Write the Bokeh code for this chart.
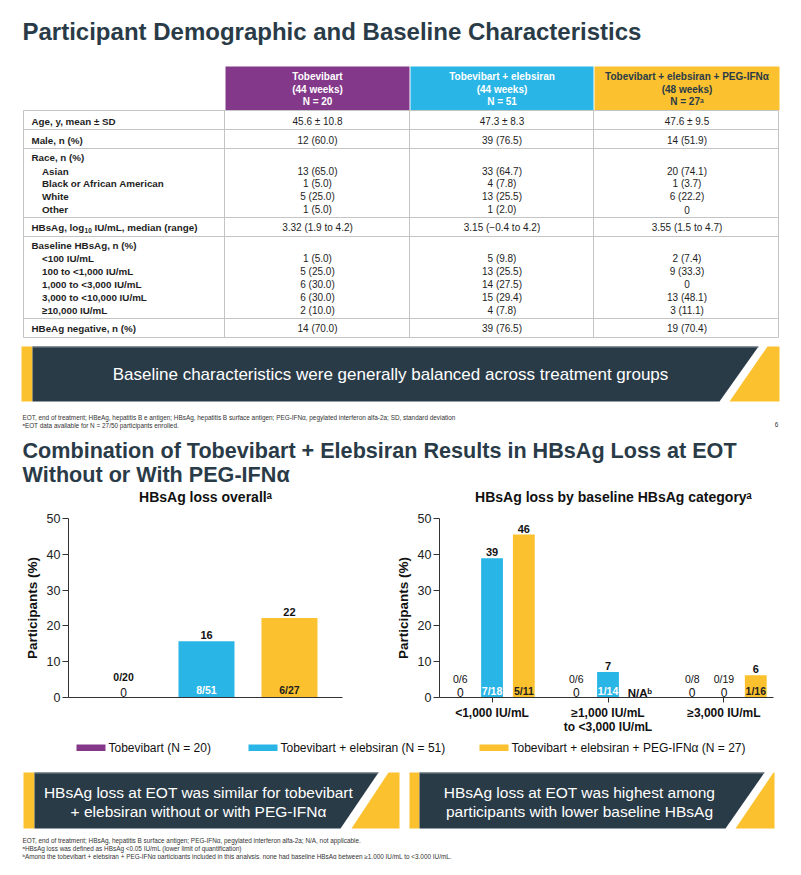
from bokeh.plotting import figure
from bokeh.models import Range1d, FixedTicker
from bokeh.layouts import column, row
from bokeh.embed import file_html
from bokeh.resources import INLINE
from bokeh.core.properties import value

# ---------------- data ----------------
group_names = ["Tobevibart", "Tobevibart + elebsiran", "Tobevibart + elebsiran + PEG-IFNα"]
group_weeks = ["(44 weeks)", "(44 weeks)", "(48 weeks)"]
group_n = ["N = 20", "N = 51", "N = 27ᵃ"]
legend_labels = ["Tobevibart (N = 20)", "Tobevibart + elebsiran (N = 51)",
                 "Tobevibart + elebsiran + PEG-IFNα (N = 27)"]

row_labels = ["Age, y, mean ± SD", "Male, n (%)", "Race, n (%)", "Asian",
              "Black or African American", "White", "Other",
              "HBsAg, log|10|IU/mL, median (range)", "Baseline HBsAg, n (%)",
              "<100 IU/mL", "100 to <1,000 IU/mL", "1,000 to <3,000 IU/mL",
              "3,000 to <10,000 IU/mL", "≥10,000 IU/mL", "HBeAg negative, n (%)"]
row_indent = [0, 0, 0, 1, 1, 1, 1, 0, 0, 1, 1, 1, 1, 1, 0]
col_tobevibart = ["45.6 ± 10.8", "12 (60.0)", "", "13 (65.0)", "1 (5.0)", "5 (25.0)",
                  "1 (5.0)", "3.32 (1.9 to 4.2)", "", "1 (5.0)", "5 (25.0)", "6 (30.0)",
                  "6 (30.0)", "2 (10.0)", "14 (70.0)"]
col_tob_ele = ["47.3 ± 8.3", "39 (76.5)", "", "33 (64.7)", "4 (7.8)", "13 (25.5)",
               "1 (2.0)", "3.15 (−0.4 to 4.2)", "", "5 (9.8)", "13 (25.5)", "14 (27.5)",
               "15 (29.4)", "4 (7.8)", "39 (76.5)"]
col_tob_ele_peg = ["47.6 ± 9.5", "14 (51.9)", "", "20 (74.1)", "1 (3.7)", "6 (22.2)",
                   "0", "3.55 (1.5 to 4.7)", "", "2 (7.4)", "9 (33.3)", "0",
                   "13 (48.1)", "3 (11.1)", "19 (70.4)"]

overall_pct = [0, 15.7, 22.2]
overall_label = ["0", "16", "22"]
overall_frac = ["0/20", "8/51", "6/27"]

categories = ["<1,000 IU/mL", "≥1,000 IU/mL\nto <3,000 IU/mL", "≥3,000 IU/mL"]
cat_pct_tob = [0, 0, 0]
cat_frac_tob = ["0/6", "0/6", "0/8"]
cat_pct_ele = [38.9, 7.1, 0]
cat_label_ele = ["39", "7", "0"]
cat_frac_ele = ["7/18", "1/14", "0/19"]
cat_pct_peg = [45.5, None, 6.25]
cat_label_peg = ["46", "", "6"]
cat_frac_peg = ["5/11", "N/Aᵇ", "1/16"]

title_top = "Participant Demographic and Baseline Characteristics"
banner_top = "Baseline characteristics were generally balanced across treatment groups"
foot_top = ["EOT, end of treatment; HBeAg, hepatitis B e antigen; HBsAg, hepatitis B surface antigen; PEG-IFNα, pegylated interferon alfa-2a; SD, standard deviation",
            "ᵃEOT data available for N = 27/50 participants enrolled."]
title_bottom = ["Combination of Tobevibart + Elebsiran Results in HBsAg Loss at EOT",
                "Without or With PEG-IFNα"]
chart_titles = ["HBsAg loss overallᵃ", "HBsAg loss by baseline HBsAg categoryᵃ"]
banner_bottom_left = ["HBsAg loss at EOT was similar for tobevibart", "+ elebsiran without or with PEG-IFNα"]
banner_bottom_right = ["HBsAg loss at EOT was highest among", "participants with lower baseline HBsAg"]
foot_bottom = ["EOT, end of treatment; HBsAg, hepatitis B surface antigen; PEG-IFNα, pegylated interferon alfa-2a; N/A, not applicable.",
               "ᵃHBsAg loss was defined as HBsAg <0.05 IU/mL (lower limit of quantification)",
               "ᵇAmong the tobevibart + elebsiran + PEG-IFNα participants included in this analysis, none had baseline HBsAg between ≥1,000 IU/mL to <3,000 IU/mL."]

# ---------------- styles ----------------
FONT = "Liberation Sans"
DARK = "#2a3b48"
PURPLE = "#84388a"
BLUE = "#29b5e6"
YELLOW = "#fbc12f"
TEXT = "#1e1e1e"
GRID = "#c4c4c4"
colors = [PURPLE, BLUE, YELLOW]
W = 785
LABEL_PX = 9.8


def canvas(y0, y1):
    p = figure(width=W, height=y1 - y0, x_range=Range1d(0, W), y_range=Range1d(y1, y0),
               output_backend="svg", toolbar_location=None, min_border=0,
               x_axis_type=None, y_axis_type=None, outline_line_color=None)
    p.background_fill_color = "white"
    p.border_fill_color = "white"
    return p


def txt(p, x, y, s, size, bold=False, color=TEXT, align="left"):
    p.text(x=[x], y=[y], text=[s], text_font=value(FONT), text_font_size=f"{size}px",
           text_font_style="bold" if bold else "normal", text_color=color,
           text_align=align, text_baseline="middle")


# approximate Arial-bold advance widths (per 1000 em) for placing subscripts
BOLD_W = {"H": 722, "B": 722, "s": 556, "A": 722, "g": 611, ",": 278, " ": 278,
          "l": 278, "o": 611}


def label_with_sub(p, x, y, s, size):
    pre, sub, post = s.split("|")
    txt(p, x, y, pre, size, True)
    w_pre = sum(BOLD_W.get(c, 600) for c in pre) * size / 1000
    sub_size = size * 0.66
    txt(p, x + w_pre + 0.3, y + 3, sub, sub_size, True)
    w_sub = len(sub) * 556 * sub_size / 1000
    txt(p, x + w_pre + w_sub + 0.3 + 278 * size / 1000, y, post, size, True)


def banner(p, strip, dark, yel, y0, y1):
    p.quad(left=[strip[0]], right=[strip[1]], top=[y0], bottom=[y1], fill_color=YELLOW, line_color=None)
    p.patch(x=[strip[1], dark[0], dark[1], strip[1]], y=[y0, y0, y1, y1], fill_color=DARK, line_color=None)
    p.patch(x=yel[0], y=yel[1], fill_color=YELLOW, line_color=None)
    p.segment(x0=[strip[1]], y0=[y0 + 0.5], x1=[dark[0]], y1=[y0 + 0.5], line_color="#7f8a93", line_width=1)


# ---------------- top canvas ----------------
top = canvas(0, 505)
txt(top, 22, 31, title_top, 24, bold=True, color=DARK)

col_left = [225, 410, 594]
col_right = [409, 593, 779]
col_center = [(a + b) / 2 for a, b in zip(col_left, col_right)]
top.quad(left=col_left, right=col_right, top=[66] * 3, bottom=[110] * 3, fill_color=colors, line_color=None)
head_colors = ["white", "white", DARK]
for i in range(3):
    txt(top, col_center[i], 76, group_names[i], 10, True, head_colors[i], "center")
    txt(top, col_center[i], 88.5, group_weeks[i], 10, True, head_colors[i], "center")
    txt(top, col_center[i], 100.5, group_n[i], 10, True, head_colors[i], "center")

hlines = [110, 129, 148, 217, 236, 318, 337]
vlines = [23, 224, 409, 593, 778]
top.segment(x0=[23] * len(hlines), x1=[778] * len(hlines), y0=hlines, y1=hlines, line_color=GRID, line_width=1)
top.segment(x0=vlines, x1=vlines, y0=[110] * len(vlines), y1=[337] * len(vlines), line_color=GRID, line_width=1)

row_y = [120.5, 139.5, 157, 170.5, 183, 196, 209, 227, 245, 258, 271, 283.5, 296.5, 309.5, 328]
for i, lab in enumerate(row_labels):
    lx = 31 if row_indent[i] == 0 else 41.5
    if "|" in lab:
        label_with_sub(top, lx, row_y[i], lab, LABEL_PX)
    else:
        txt(top, lx, row_y[i], lab, LABEL_PX, True, TEXT)
    for j, col in enumerate([col_tobevibart, col_tob_ele, col_tob_ele_peg]):
        if col[i]:
            txt(top, col_center[j], row_y[i], col[i], 10, False, TEXT, "center")

banner(top, (21, 32), (758, 719), ([767, 779, 779, 729], [346, 346, 401, 401]), 346, 401)
txt(top, 390, 374, banner_top, 17, False, "white", "center")

txt(top, 22, 417, foot_top[0], 6.4, False, "#333333")
txt(top, 22, 425, foot_top[1], 6.4, False, "#333333")
txt(top, 776, 424, "6", 6.4, False, "#333333", "center")

txt(top, 22, 450, title_bottom[0], 21.6, True, DARK)
txt(top, 22, 474, title_bottom[1], 21.6, True, DARK)
txt(top, 205, 496, chart_titles[0], 14, True, "#111111", "center")
txt(top, 613, 496, chart_titles[1], 14, True, "#111111", "center")


# ---------------- charts ----------------
def chart(width, xr, left, right):
    p = figure(width=width, height=235, x_range=Range1d(*xr), y_range=Range1d(0, 50),
               output_backend="svg", toolbar_location=None, outline_line_color=None,
               min_border_left=left, min_border_right=right, min_border_top=13, min_border_bottom=43)
    p.grid.visible = False
    p.background_fill_color = "white"
    p.border_fill_color = "white"
    ya = p.yaxis[0]
    ya.ticker = FixedTicker(ticks=[0, 10, 20, 30, 40, 50])
    ya.minor_tick_line_color = None
    ya.major_tick_in = 0
    ya.major_tick_out = 6
    ya.major_label_standoff = 2
    ya.major_label_text_font = FONT
    ya.major_label_text_font_size = "12.5px"
    ya.major_label_text_color = "#222222"
    ya.axis_line_color = "#333333"
    ya.major_tick_line_color = "#333333"
    ya.axis_label = "Participants (%)"
    ya.axis_label_text_font = FONT
    ya.axis_label_text_font_style = "bold"
    ya.axis_label_text_font_size = "13.5px"
    ya.axis_label_text_color = "#111111"
    ya.axis_label_standoff = 4
    xa = p.xaxis[0]
    xa.axis_line_color = "#333333"
    xa.minor_tick_line_color = None
    return p


def lab(p, xs, ys, texts, size, bold, color, yoff):
    p.text(x=xs, y=ys, text=texts, text_font=value(FONT), text_font_size=f"{size}px",
           text_font_style="bold" if bold else "normal", text_color=color,
           text_align="center", text_baseline="middle", y_offset=yoff)


# left chart (page x 0..392, frame 68..342)
left = chart(392, (-0.663, 2.639), 68, 50)
left.xaxis[0].ticker = FixedTicker(ticks=[])
left.xaxis[0].major_tick_line_color = None
idx = list(range(3))
bars = [i for i in idx if overall_pct[i] > 0]
left.vbar(x=bars, top=[overall_pct[i] for i in bars], width=0.675,
          fill_color=[colors[i] for i in bars], line_color=None)
lab(left, bars, [overall_pct[i] for i in bars], [overall_label[i] for i in bars], 11, True, "#111111", -6)
frac_col = ["#111111", "white", "#1e1e1e"]
lab(left, bars, [0] * len(bars), [overall_frac[i] for i in bars], 10.5, True,
    [frac_col[i] for i in bars], -8)
zeros = [i for i in idx if overall_pct[i] == 0]
lab(left, zeros, [0] * len(zeros), [overall_frac[i] for i in zeros], 10.5, True, "#111111", -21)
lab(left, zeros, [0] * len(zeros), [overall_label[i] for i in zeros], 12, False, "#111111", -5)

# right chart (page x 392..785, frame 436..773)
right = chart(393, (-0.453, 2.427), 44, 12)
xa = right.xaxis[0]
xa.ticker = FixedTicker(ticks=[0, 1, 2])
xa.major_label_overrides = {0: categories[0], 1: categories[1], 2: categories[2]}
xa.major_tick_in = 0
xa.major_tick_out = 5
xa.major_tick_line_color = "#333333"
xa.major_label_standoff = 3
xa.major_label_text_font = FONT
xa.major_label_text_font_style = "bold"
xa.major_label_text_font_size = "12px"
xa.major_label_text_color = "#111111"
xa.major_label_text_line_height = 1.0

offsets = [-0.274, 0.0, 0.274]
series = [(cat_pct_tob, None, cat_frac_tob), (cat_pct_ele, cat_label_ele, cat_frac_ele),
          (cat_pct_peg, cat_label_peg, cat_frac_peg)]
for s, (pcts, labels, fracs) in enumerate(series):
    xs_bar, ys_bar, lb, fr = [], [], [], []
    xs_zero, fr_zero = [], []
    xs_na, na = [], []
    for i in idx:
        x = i + offsets[s]
        v = pcts[i]
        if v is None:
            xs_na.append(x)
            na.append(fracs[i])
        elif v > 0:
            xs_bar.append(x)
            ys_bar.append(v)
            lb.append(labels[i])
            fr.append(fracs[i])
        else:
            xs_zero.append(x)
            fr_zero.append(fracs[i])
    if xs_bar:
        right.vbar(x=xs_bar, top=ys_bar, width=0.188, fill_color=colors[s], line_color=None)
        lab(right, xs_bar, ys_bar, lb, 11, True, "#111111", -6)
        lab(right, xs_bar, [0] * len(xs_bar), fr, 10.5, True, frac_col[s], -7)
    if xs_zero:
        lab(right, xs_zero, [0] * len(xs_zero), fr_zero, 10.5, False, "#111111", -19)
        lab(right, xs_zero, [0] * len(xs_zero), ["0"] * len(xs_zero), 12, False, "#111111", -5)
    if xs_na:
        lab(right, xs_na, [0] * len(xs_na), na, 11.5, True, "#111111", -5)

# ---------------- bottom canvas ----------------
bot = canvas(740, 859)
sw_x = [76, 248, 479]
for i in range(3):
    bot.quad(left=[sw_x[i]], right=[sw_x[i] + 29], top=[744], bottom=[750.5], fill_color=colors[i], line_color=None)
    txt(bot, sw_x[i] + 32, 747, legend_labels[i], 12, False, "#111111")

banner(bot, (23, 34), (378, 340), ([388, 399, 399, 351], [772, 772, 828, 828]), 772, 828)
txt(bot, 198, 792, banner_bottom_left[0], 15.5, False, "white", "center")
txt(bot, 198, 811, banner_bottom_left[1], 15.5, False, "white", "center")
banner(bot, (409, 419), (764, 725), ([773, 774, 774, 735], [772, 772, 828, 828]), 772, 828)
txt(bot, 579, 792, banner_bottom_right[0], 15.5, False, "white", "center")
txt(bot, 579, 811, banner_bottom_right[1], 15.5, False, "white", "center")

for k, line in enumerate(foot_bottom):
    txt(bot, 22, 840 + 7.8 * k, line, 6.4, False, "#333333")

layout = column(top, row(left, right, spacing=0), bot, spacing=0)
open("out.html", "w").write(file_html(layout, INLINE))
